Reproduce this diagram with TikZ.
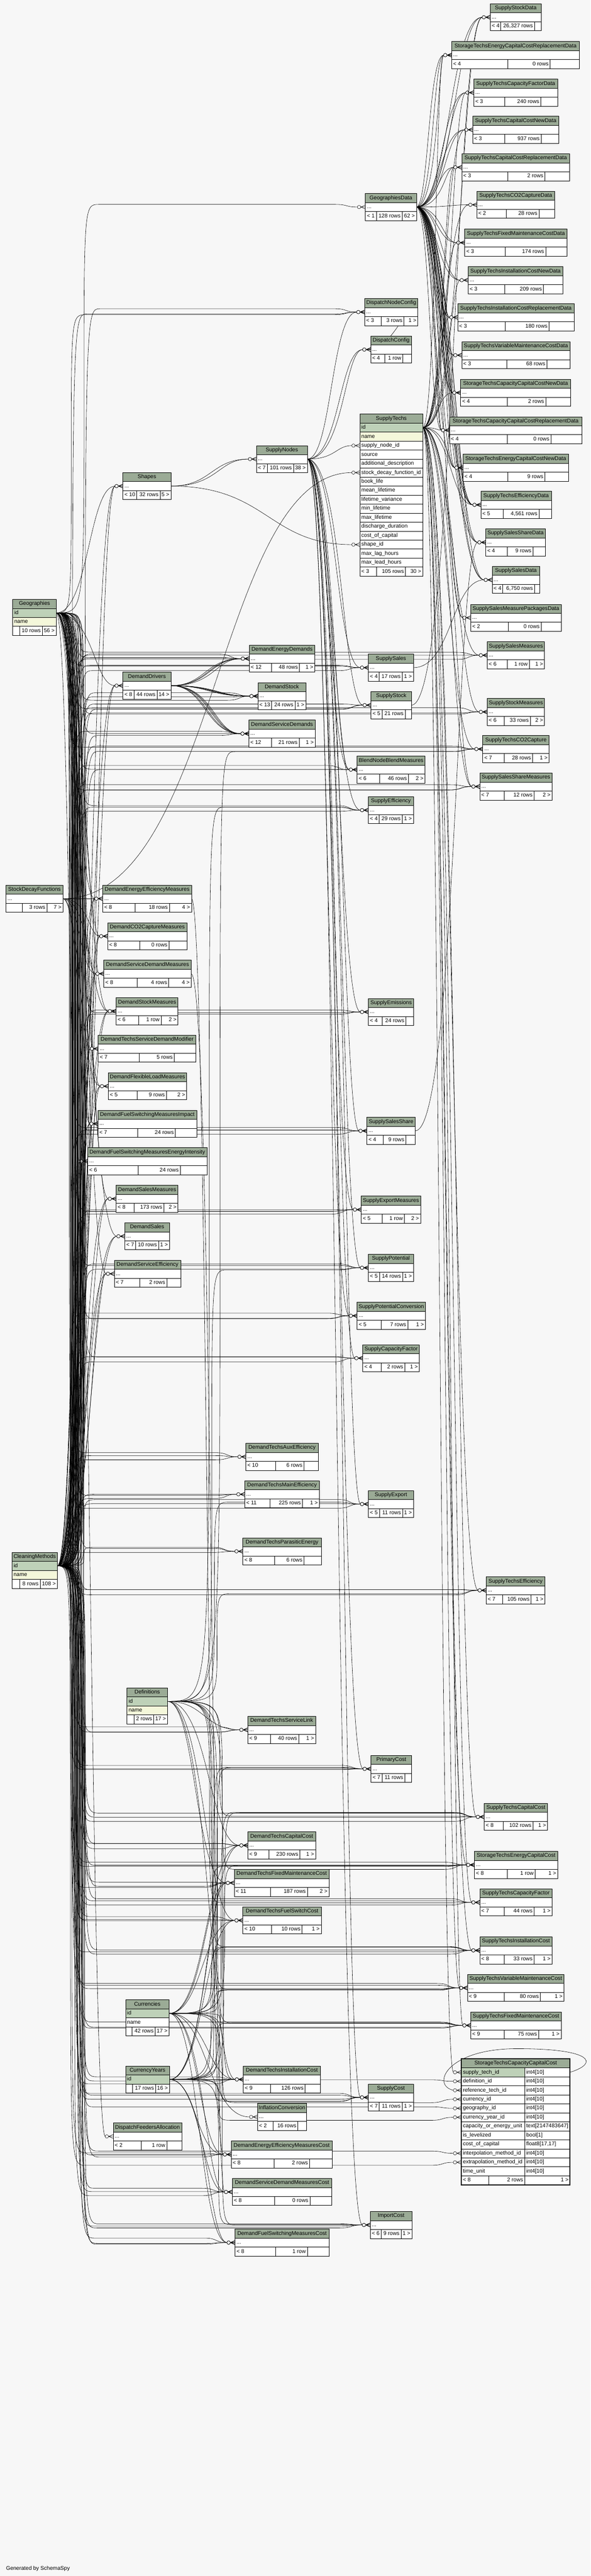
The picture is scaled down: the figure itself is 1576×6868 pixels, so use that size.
\documentclass[tikz,border=0pt]{standalone}
\usepackage{fontspec}
\setmainfont{Liberation Sans}
\usetikzlibrary{calc}
\definecolor{bgc}{HTML}{F7F7F7}
\definecolor{hdr}{HTML}{9BAB96}
\definecolor{pkc}{HTML}{BED1B8}
\definecolor{idx}{HTML}{F4F7DA}
\pgfdeclarelayer{bg}
\pgfdeclarelayer{edges}
\pgfsetlayers{bg,edges,main}
\newcounter{ek}
\newcounter{tn}
\tikzset{
  fk/.style={draw=black,line width=0.8pt},
  cell/.style={draw=black,line width=0.9pt},
  txt/.style={inner sep=0pt,font=\fontsize{14.5}{17}\selectfont,text height=10.5pt,text depth=3pt},
}
\newcommand{\TX}[3][center]{\stepcounter{tn}\node[txt,anchor=#1] (n\arabic{tn}) at (#2) {#3};}
\newcommand{\tbhd}[5]{\draw[cell,fill=hdr] (#2,#3) rectangle ++(#4,24);
  \node[txt] (#1) at ({#2+#4/2},{#3+12}) {#5};}
\newcommand{\tbfr}[5]{\draw[cell,fill=#4] (#1,#2) rectangle ++(#3,24);
  \TX[west]{{#1+4},{#2+12}}{#5}}
\newcommand{\tbft}[8]{\draw[cell,fill=white] (#1,#2) rectangle ++(#3,24);
  \draw[cell] ({#1+#4},#2) -- ++(0,24) ({#1+#5},#2) -- ++(0,24);
  \TX[west]{{#1+4},{#2+12}}{#6}\TX[east]{{#1+#5-4},{#2+12}}{#7}\TX[east]{{#1+#3-4},{#2+12}}{#8}}
\newcommand{\tb}[6]{\def\tbI{#1}\def\tbX{#2}\def\tbY{#3}\def\tbW{#4}\def\tbA{#5}\def\tbB{#6}\tbdraw}
\newcommand{\tbdraw}[4]{\tbhd{\tbI}{\tbX}{\tbY}{\tbW}{#1}
  \tbfr{\tbX}{\tbY+24}{\tbW}{white}{...}
  \tbft{\tbX}{\tbY+48}{\tbW}{\tbA}{\tbB}{#2}{#3}{#4}
  \coordinate (\tbI i) at (\tbX,\tbY+36);
  \coordinate (\tbI o) at (\tbX+\tbW,\tbY+36);}
\newcommand{\crowf}[1]{%
  \draw[fk] ($(#1)+(-12,0)$) -- ($(#1)+(0,-5)$) ($(#1)+(-12,0)$) -- (#1) ($(#1)+(-12,0)$) -- ($(#1)+(0,5)$) ($(#1)+(-13,0)$) -- ($(#1)+(-12,0)$);
  \draw[fk,fill=white] ($(#1)+(-17,0)$) circle [radius=4.5pt];}
\newcommand{\Er}[3]{%
  \stepcounter{ek}%
  \pgfmathsetmacro\eca{#3+mod(\arabic{ek}*7,41)}%
  \pgfmathsetmacro\elo{mod(\arabic{ek}*11,25)-12}%
  \draw[fk] let \p1=(#1), \p2=(#2) in
   (\p1) .. controls ({\x1+\eca},\y1) and ({\x1+\eca},\y1) .. ({\x1+\eca},{(\y1+\y2+(\elo))/2})
   .. controls ({\x1+\eca},{\y2+(\elo)}) and ({\x1+\eca},{\y2+(\elo)}) .. ({\x1+\eca+40},{\y2+(\elo)})
   -- ({\x2-81},{\y2+(\elo)})
   .. controls ({\x2-45},{\y2+(\elo)}) and ({\x2-55},\y2) .. ({\x2-21},\y2);
  \crowf{#2}}
\newcommand{\Es}[2]{%
  \stepcounter{ek}%
  \pgfmathsetmacro\ejit{mod(\arabic{ek}*13,31)-15}%
  \draw[fk] let \p1=(#1), \p2=(#2) in
   (\p1) .. controls ({(\x1+\x2)/2+(\ejit)},\y1) and ({(\x1+\x2)/2+(\ejit)},\y2) .. ({\x2-21},\y2);
  \crowf{#2}}

\begin{document}
\begin{tikzpicture}[x=1pt,y=-1pt]
\useasboundingbox (0,0) rectangle (1576,6868);
\begin{pgfonlayer}{bg}\fill[bgc] (0,0) rectangle (1576,6868);\end{pgfonlayer}

% ---------- column 5 (right) ----------
\tb{ssd}{1308}{10}{136}{28}{118}{SupplyStockData}{< 4}{26,327 rows}{}
\tb{stecrd}{1205}{111}{341}{150}{263}{StorageTechsEnergyCapitalCostReplacementData}{< 4}{0 rows}{}
\tb{stcfd}{1264}{211}{224}{82}{179}{SupplyTechsCapacityFactorData}{< 3}{240 rows}{}
\tb{stccnd}{1261}{310}{230}{85}{183}{SupplyTechsCapitalCostNewData}{< 3}{937 rows}{}
\tb{stccrd}{1232}{410}{288}{123}{222}{SupplyTechsCapitalCostReplacementData}{< 3}{2 rows}{}
\tb{stco2d}{1272}{510}{208}{79}{166}{SupplyTechsCO2CaptureData}{< 2}{28 rows}{}
\tb{stfmd}{1240}{611}{273}{108}{216}{SupplyTechsFixedMaintenanceCostData}{< 3}{174 rows}{}
\tb{sticnd}{1249}{711}{253}{97}{201}{SupplyTechsInstallationCostNewData}{< 3}{209 rows}{}
\tb{sticrd}{1221}{810}{311}{127}{244}{SupplyTechsInstallationCostReplacementData}{< 3}{180 rows}{}
\tb{stvmd}{1232}{911}{289}{120}{227}{SupplyTechsVariableMaintenanceCostData}{< 3}{68 rows}{}
\tb{stcccnd}{1229}{1011}{293}{125}{227}{StorageTechsCapacityCapitalCostNewData}{< 4}{2 rows}{}
\tb{stcccrd}{1199}{1111}{353}{155}{271}{StorageTechsCapacityCapitalCostReplacementData}{< 4}{0 rows}{}
\tb{stecnd}{1235}{1211}{282}{120}{219}{StorageTechsEnergyCapitalCostNewData}{< 4}{9 rows}{}
\tb{sted}{1283}{1310}{188}{59}{155}{SupplyTechsEfficiencyData}{< 5}{4,561 rows}{}
\tb{sssd}{1296}{1410}{159}{58}{126}{SupplySalesShareData}{< 4}{9 rows}{}
\tb{ssald}{1313}{1510}{127}{28}{113}{SupplySalesData}{< 4}{6,750 rows}{}
\tb{ssmpd}{1256}{1611}{241}{100}{188}{SupplySalesMeasurePackagesData}{< 2}{0 rows}{}
\tb{ssm}{1300}{1711}{153}{54}{112}{SupplySalesMeasures}{< 6}{1 row}{1 >}
\tb{sstm}{1300}{1862}{153}{45}{115}{SupplyStockMeasures}{< 6}{33 rows}{2 >}
\tb{stco2}{1288}{1961}{177}{57}{133}{SupplyTechsCO2Capture}{< 7}{28 rows}{1 >}
\tb{sssm}{1280}{2061}{193}{65}{145}{SupplySalesShareMeasures}{< 7}{12 rows}{2 >}
\tb{ste}{1297}{4204}{157}{44}{120}{SupplyTechsEfficiency}{< 7}{105 rows}{1 >}
\tb{stcc}{1292}{4808}{169}{50}{130}{SupplyTechsCapitalCost}{< 8}{102 rows}{1 >}
\tb{stec}{1266}{4936}{222}{88}{162}{StorageTechsEnergyCapitalCost}{< 8}{1 row}{1 >}
\tb{stcf}{1280}{5036}{193}{65}{145}{SupplyTechsCapacityFactor}{< 7}{44 rows}{1 >}
\tb{stic}{1280}{5164}{193}{65}{145}{SupplyTechsInstallationCost}{< 8}{33 rows}{1 >}
\tb{stvm}{1247}{5264}{258}{98}{195}{SupplyTechsVariableMaintenanceCost}{< 9}{80 rows}{1 >}
\tb{stfm}{1256}{5364}{241}{89}{181}{SupplyTechsFixedMaintenanceCost}{< 9}{75 rows}{1 >}

% focus table
\tbhd{foc}{1231}{5489}{290}{StorageTechsCapacityCapitalCost}
\tbfr{1231}{5513}{169}{pkc}{supply\_tech\_id}
\tbfr{1400}{5513}{121}{white}{int4[10]}
\foreach \fname/\ftype [count=\k from 2] in {definition\_id/int4[10], reference\_tech\_id/int4[10], currency\_id/int4[10], geography\_id/int4[10], currency\_year\_id/int4[10], capacity\_or\_energy\_unit/text[2147483647], is\_levelized/bool[1], cost\_of\_capital/{float8[17,17]}, interpolation\_method\_id/int4[10], extrapolation\_method\_id/int4[10], time\_unit/int4[10]}
  {\tbfr{1231}{5489+24*\k}{169}{white}{\fname}\tbfr{1400}{5489+24*\k}{121}{white}{\ftype}}
\tbft{1231}{5801}{290}{73}{169}{< 8}{2 rows}{1 >}
\draw[line width=3pt] (1231,5489) rectangle (1521,5825);
\coordinate (foc-st) at (1231,5525);
\coordinate (foc-def) at (1231,5549);
\coordinate (foc-ref) at (1231,5573);
\coordinate (foc-cur) at (1231,5597);
\coordinate (foc-geo) at (1231,5621);
\coordinate (foc-cy) at (1231,5645);
\coordinate (foc-int) at (1231,5741);
\coordinate (foc-ext) at (1231,5765);
\coordinate (focso) at (1521,5525);

% ---------- column 4 ----------
\tb{gd}{975}{516}{136}{29}{98}{GeographiesData}{< 1}{128 rows}{62 >}
\tb{dnc}{973}{796}{142}{44}{105}{DispatchNodeConfig}{< 3}{3 rows}{1 >}
\tb{dc}{989}{896}{109}{37}{86}{DispatchConfig}{< 4}{1 row}{}
\tb{ss}{983}{1744}{120}{29}{90}{SupplySales}{< 4}{17 rows}{1 >}
\tb{sst}{990}{1844}{108}{30}{91}{SupplyStock}{< 5}{21 rows}{}
\tb{bnbm}{953}{2016}{181}{60}{137}{BlendNodeBlendMeasures}{< 6}{46 rows}{2 >}
\tb{se}{983}{2124}{120}{29}{90}{SupplyEfficiency}{< 4}{29 rows}{1 >}
\tb{sem}{983}{2662}{121}{36}{100}{SupplyEmissions}{< 4}{24 rows}{}
\tb{sss}{979}{2979}{129}{44}{104}{SupplySalesShare}{< 4}{9 rows}{}
\tb{sxm}{964}{3189}{158}{56}{115}{SupplyExportMeasures}{< 5}{1 row}{2 >}
\tb{sp}{983}{3344}{120}{30}{91}{SupplyPotential}{< 5}{14 rows}{1 >}
\tb{spc}{953}{3472}{182}{64}{135}{SupplyPotentialConversion}{< 5}{7 rows}{1 >}
\tb{scf}{968}{3585}{151}{49}{112}{SupplyCapacityFactor}{< 4}{2 rows}{1 >}
\tb{sx}{983}{3974}{120}{30}{91}{SupplyExport}{< 5}{11 rows}{1 >}
\tb{pc}{990}{4680}{108}{29}{90}{PrimaryCost}{< 7}{11 rows}{}
\tb{sc}{983}{5556}{120}{29}{90}{SupplyCost}{< 7}{11 rows}{1 >}
\tb{imc}{988}{5896}{111}{29}{82}{ImportCost}{< 6}{9 rows}{1 >}

% SupplyTechs
\tbhd{st}{960}{1104}{168}{SupplyTechs}
\tbfr{960}{1128}{168}{pkc}{id}
\tbfr{960}{1152}{168}{idx}{name}
\foreach \fname [count=\k] in {supply\_node\_id,source,additional\_description,stock\_decay\_function\_id,book\_life,mean\_lifetime,lifetime\_variance,min\_lifetime,max\_lifetime,discharge\_duration,cost\_of\_capital,shape\_id,max\_lag\_hours,max\_lead\_hours}
  {\tbfr{960}{1152+24*\k}{168}{white}{\fname}}
\tbft{960}{1512}{168}{44}{122}{< 3}{105 rows}{30 >}
\coordinate (sto) at (1128,1140);
\coordinate (st-sn) at (960,1188);
\coordinate (st-sdf) at (960,1260);
\coordinate (st-shp) at (960,1452);

% ---------- column 3 ----------
\tb{sn}{684}{1188}{136}{29}{99}{SupplyNodes}{< 7}{101 rows}{38 >}
\tb{ded}{665}{1720}{175}{60}{134}{DemandEnergyDemands}{< 12}{48 rows}{1 >}
\tb{dst}{688}{1820}{128}{37}{99}{DemandStock}{< 13}{24 rows}{1 >}
\tb{dsd}{664}{1920}{177}{61}{134}{DemandServiceDemands}{< 12}{21 rows}{1 >}
\tb{dtae}{656}{3848}{193}{80}{155}{DemandTechsAuxEfficiency}{< 10}{6 rows}{}
\tb{dtme}{653}{3948}{199}{67}{154}{DemandTechsMainEfficiency}{< 11}{225 rows}{1 >}
\tb{dtpe}{648}{4100}{209}{84}{163}{DemandTechsParasiticEnergy}{< 8}{6 rows}{}
\tb{dtsl}{661}{4576}{181}{60}{136}{DemandTechsServiceLink}{< 9}{40 rows}{1 >}
\tb{dtcc}{661}{4884}{181}{56}{139}{DemandTechsCapitalCost}{< 9}{230 rows}{1 >}
\tb{dtfm}{625}{4984}{253}{96}{195}{DemandTechsFixedMaintenanceCost}{< 11}{187 rows}{2 >}
\tb{dtfs}{648}{5084}{209}{77}{158}{DemandTechsFuelSwitchCost}{< 10}{10 rows}{1 >}
\tb{dtic}{649}{5508}{206}{73}{165}{DemandTechsInstallationCost}{< 9}{126 rows}{}
\tb{ic}{687}{5608}{131}{41}{108}{InflationConversion}{< 2}{16 rows}{}
\tb{deemc}{617}{5708}{269}{114}{209}{DemandEnergyEfficiencyMeasuresCost}{< 8}{2 rows}{}
\tb{dsdmc}{620}{5808}{265}{112}{207}{DemandServiceDemandMeasuresCost}{< 8}{0 rows}{}
\tb{dfsmc}{627}{5943}{251}{108}{193}{DemandFuelSwitchingMeasuresCost}{< 8}{1 row}{}

% ---------- column 2 ----------
\tb{shp}{328}{1260}{128}{37}{99}{Shapes}{< 10}{32 rows}{5 >}
\tb{dd}{328}{1792}{128}{29}{91}{DemandDrivers}{< 8}{44 rows}{14 >}
\tb{deem}{274}{2360}{237}{87}{178}{DemandEnergyEfficiencyMeasures}{< 8}{18 rows}{4 >}
\tb{dco2}{287}{2460}{212}{86}{164}{DemandCO2CaptureMeasures}{< 8}{0 rows}{}
\tb{dsdm}{277}{2560}{233}{89}{173}{DemandServiceDemandMeasures}{< 8}{4 rows}{4 >}
\tb{dsm}{310}{2660}{165}{60}{120}{DemandStockMeasures}{< 6}{1 row}{2 >}
\tb{dtsdm}{262}{2760}{261}{110}{203}{DemandTechsServiceDemandModifier}{< 7}{5 rows}{}
\tb{dflm}{289}{2860}{209}{77}{155}{DemandFlexibleLoadMeasures}{< 5}{9 rows}{2 >}
\tb{fsi}{261}{2960}{264}{106}{207}{DemandFuelSwitchingMeasuresImpact}{< 7}{24 rows}{}
\tb{fse}{234}{3060}{318}{134}{247}{DemandFuelSwitchingMeasuresEnergyIntensity}{< 6}{24 rows}{}
\tb{dsalm}{310}{3160}{165}{48}{127}{DemandSalesMeasures}{< 8}{173 rows}{2 >}
\tb{dsal}{333}{3260}{119}{29}{90}{DemandSales}{< 7}{10 rows}{1 >}
\tb{dse}{305}{3360}{177}{68}{140}{DemandServiceEfficiency}{< 7}{2 rows}{}
\tb{dfa}{302}{5660}{183}{75}{143}{DispatchFeedersAllocation}{< 2}{1 row}{}

\tbhd{def}{339}{4500}{108}{Definitions}
\tbfr{339}{4524}{108}{pkc}{id}
\tbfr{339}{4548}{108}{idx}{name}
\tbft{339}{4572}{108}{18}{71}{}{2 rows}{17 >}
\coordinate (defo) at (447,4536);

\tbhd{cur}{335}{5332}{116}{Currencies}
\tbfr{335}{5356}{116}{pkc}{id}
\tbfr{335}{5380}{116}{white}{name}
\tbft{335}{5404}{116}{17}{79}{}{42 rows}{17 >}
\coordinate (curo) at (451,5368);

\tbhd{cy}{335}{5508}{117}{CurrencyYears}
\tbfr{335}{5532}{117}{pkc}{id}
\tbft{335}{5556}{117}{18}{80}{}{17 rows}{16 >}
\coordinate (cyo) at (452,5544);

% ---------- column 1 ----------
\tbhd{geo}{34}{1598}{116}{Geographies}
\tbfr{34}{1622}{116}{pkc}{id}
\tbfr{34}{1646}{116}{idx}{name}
\tbft{34}{1670}{116}{18}{79}{}{10 rows}{56 >}
\coordinate (geoo) at (150,1634);

\tb{sdf}{16}{2360}{152}{43}{109}{StockDecayFunctions}{}{3 rows}{7 >}

\tbhd{cm}{32}{4139}{121}{CleaningMethods}
\tbfr{32}{4163}{121}{pkc}{id}
\tbfr{32}{4187}{121}{idx}{name}
\tbft{32}{4211}{121}{20}{75}{}{8 rows}{108 >}
\coordinate (cmo) at (153,4175);

\TX[west]{16,6848}{Generated by SchemaSpy}

% ---------- connectors ----------
\begin{pgfonlayer}{edges}
\foreach \c in {shpi,ddi,deemi,dco2i,dsdmi,dsmi,dtsdmi,dflmi,fsii,fsei,dsalmi,dsali,dsei,dfai}{\Es{geoo}{\c}}
\foreach \c in {dedi,dsti,dsdi,dtaei,dtmei,dtpei,dtsli,dtcci,dtfmi,dtfsi,dtici,deemci,dsdmci,dfsmci,gdi,dnci,ssi,ssti,bnbmi,sei,semi,sssi,sxmi,spi,spci,scfi,sxi,pci,sci,imci,ssmi,sstmi,stco2i,sssmi,stei,stcci,steci,stcfi,stici,stvmi,stfmi,foc-geo}{\Er{geoo}{\c}{35}}

\foreach \c in {shpi,ddi,deemi,dco2i,dsdmi,dsmi,dtsdmi,dflmi,fsii,fsei,dsalmi,dsali,dsei}{\Es{cmo}{\c}\Es{cmo}{\c}}
\foreach \c in {dedi,dsti,dsdi,dtaei,dtmei,dtpei,dtsli,dtcci,dtfmi,dtfsi,dtici,deemci,dsdmci,dfsmci,dnci,ssi,ssti,bnbmi,sei,semi,sssi,sxmi,spi,spci,scfi,sxi,pci,sci,imci,ssmi,sstmi,stco2i,sssmi,stei,stcci,steci,stcfi,stici,stvmi,stfmi}{\Er{cmo}{\c}{35}\Er{cmo}{\c}{35}}
\Er{cmo}{foc-int}{35}
\Er{cmo}{foc-ext}{35}

\foreach \c in {dtsli,dtcci,dtfmi,dtfsi,dtici}{\Es{defo}{\c}}
\foreach \c in {sei,spi,sxi,stei,stcci,steci,stcfi,stici,stvmi,stfmi,stco2i,foc-def}{\Er{defo}{\c}{110}}

\foreach \c in {dtcci,dtfmi,dtfsi,dtici,ici,deemci,dsdmci,dfsmci}{\Es{curo}{\c}}
\foreach \c in {pci,sci,imci,stcci,steci,stici,stvmi,stfmi,foc-cur}{\Er{curo}{\c}{110}}

\foreach \c in {dtcci,dtfmi,dtfsi,dtici,deemci,dsdmci,dfsmci}{\Es{cyo}{\c}}
\foreach \c in {pci,sci,imci,stcci,steci,stici,stvmi,stfmi,foc-cy}{\Er{cyo}{\c}{110}}

\foreach \c in {ssdi,ssdi,stecrdi,stecrdi,stecrdi,stcfdi,stcfdi,stccndi,stccndi,stccrdi,stccrdi,stco2di,stfmdi,stfmdi,sticndi,sticndi,sticrdi,sticrdi,stvmdi,stvmdi,stcccndi,stcccndi,stcccndi,stcccrdi,stcccrdi,stcccrdi,stecndi,stecndi,stecndi,stedi,stedi,stedi,stedi,sssdi,sssdi,sssdi,ssaldi,ssaldi,ssaldi,ssmpdi}{\Es{gdo}{\c}}

\foreach \c in {ssdi,stecrdi,stcfdi,stccndi,stccrdi,stco2di,stfmdi,sticndi,sticrdi,stvmdi,stcccndi,stcccrdi,stecndi,stedi,ssmpdi,ssmi,sstmi,stco2i,sssmi,sssmi,stei,stcci,steci,stcfi,stici,stvmi,stfmi,foc-st}{\Es{sto}{\c}}

\foreach \c in {st-sn,dnci,dci,dci,ssi,ssti,bnbmi,bnbmi,sei,semi,sssi,sxmi,spi,spci,scfi,sxi,pci,sci,imci}{\Es{sno}{\c}}
\Es{dnco}{dci}
\foreach \c in {dedi,dedi,dedi,dedi,dsti,dsti,dsti,dsti,dsti,dsdi,dsdi,dsdi,dsdi,dsdi}{\Es{ddo}{\c}}
\foreach \c in {st-sdf,deemi,dco2i,dsdmi,dsmi,dflmi,fsii}{\Es{sdfo}{\c}}
\foreach \c in {sni,sni,st-shp}{\Es{shpo}{\c}}
\Es{deemo}{deemci}
\Es{dsdmo}{dsdmci}
\Es{ssso}{sssdi}
\Es{sso}{ssaldi}
\Es{ssto}{ssdi}

% self reference of the focus table
\draw[fk] (focso) .. controls (1600,5500) and (1580,5462) .. (1380,5462) .. controls (1190,5462) and (1150,5560) .. ($(foc-ref)+(-21,0)$);
\crowf{foc-ref}
\end{pgfonlayer}
\end{tikzpicture}
\end{document}
